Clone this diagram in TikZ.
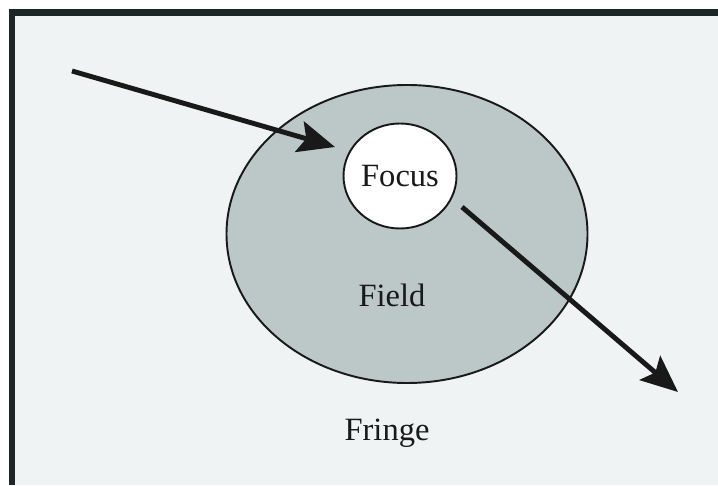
\documentclass[tikz,border=0pt]{standalone}
\usepackage{fontspec}
\setmainfont{Liberation Serif}
\usepackage{tikz}
\usetikzlibrary{arrows.meta,positioning,shapes.geometric}

\definecolor{pagebg}{HTML}{EFF3F4}
\definecolor{fieldgray}{HTML}{BCC8C8}
\definecolor{framedark}{HTML}{1C2626}

\begin{document}
\begin{tikzpicture}[
    every node/.style={font=\fontsize{18.5}{22}\selectfont, text=black!90},
    zone/.style={draw=black!90, ellipse, line width=1.1pt, inner sep=0pt},
    lbl/.style={inner sep=1pt},
    arr/.style={-{Stealth[length=21pt, width=18pt, inset=4pt]}, line width=2.8pt, black!90},
]
    \useasboundingbox (0,0) rectangle (14.36,9.70);

    % Frame
    \fill[pagebg] (0.24,0) rectangle (14.36,9.45);
    \draw[framedark, line width=3.6pt] (0.24,0) -- (0.24,9.45) -- (14.36,9.45);

    % Field
    \node[zone, fill=fieldgray, minimum width=7.22cm, minimum height=5.96cm] (field) at (8.14,5.02) {};
    \node[lbl, below=0.95cm of field.center, xshift=-0.3cm] (fieldlbl) {Field};

    % Focus
    \node[zone, fill=white, minimum width=2.26cm, minimum height=2.1cm, xshift=-0.14cm, yshift=1.16cm] (focus) at (field.center) {Focus};

    % Fringe
    \node[lbl] (fringe) at (7.74,1.04) {Fringe};

    % Arrows
    \coordinate (instart) at (1.44,8.28);
    \coordinate (inend) at (6.70,6.76);
    \coordinate (outstart) at (9.24,5.56);
    \coordinate (outend) at (13.56,1.86);
    \draw[arr] (instart) -- (inend);
    \draw[arr] (outstart) -- (outend);
\end{tikzpicture}
\end{document}
